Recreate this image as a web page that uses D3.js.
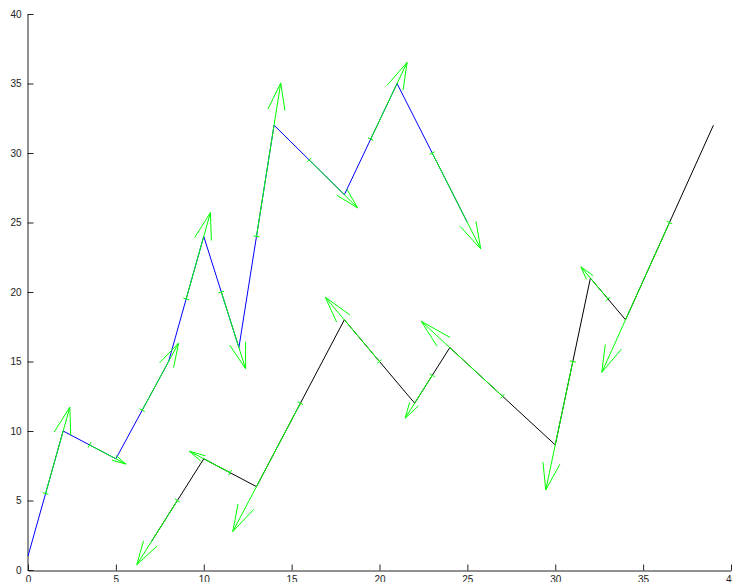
<!DOCTYPE html>
<html>
<head>
<meta charset="utf-8">
<script src="https://cdn.jsdelivr.net/npm/d3@7"></script>
<style>
  html, body { margin: 0; padding: 0; background: #fff; }
  svg { display: block; }
  .axis text { font-family: "Liberation Sans", Arial, Helvetica, sans-serif; font-size: 10px; fill: #222; }
  .axis path, .axis line { stroke: #222; }
</style>
</head>
<body>
<svg id="chart" width="732" height="582"></svg>
<script>
// ---- data ----
const blueX = [0, 2, 5, 8, 10, 12, 14, 18, 21, 25];
const blueY = [1, 10, 8, 15, 24, 16, 32, 27, 35, 25];
const blackX = [39, 34, 32, 30, 24, 22, 18, 13, 10, 7];
const blackY = [32, 18, 21, 9, 16, 12, 18, 6, 8, 2];
// quiver autoscale factors per series
const blueArrowScale = 0.69;
const blackArrowScale = 0.77;
const xTicks = [0, 5, 10, 15, 20, 25, 30, 35, 40];
const yTicks = [0, 5, 10, 15, 20, 25, 30, 35, 40];

// ---- layout ----
const plotLeft = 28, plotRight = 731, plotTop = 14, plotBottom = 570;
const svg = d3.select("#chart");
const x = d3.scaleLinear().domain([0, 40]).range([plotLeft, plotRight]);
const y = d3.scaleLinear().domain([0, 40]).range([plotBottom, plotTop]);

// axes (MATLAB-style: ticks inside, box off)
const xAxis = d3.axisBottom(x).tickValues(xTicks).tickFormat(d3.format("d"))
  .tickSizeInner(-6).tickSizeOuter(0).tickPadding(5);
const yAxis = d3.axisLeft(y).tickValues(yTicks).tickFormat(d3.format("d"))
  .tickSizeInner(-6).tickSizeOuter(0).tickPadding(6);

svg.append("g").attr("class", "axis").attr("transform", `translate(0,${plotBottom + 0.5})`).call(xAxis);
svg.append("g").attr("class", "axis").attr("transform", `translate(${plotLeft - 0.5},0)`).call(yAxis);

// ---- lines ----
const line = d3.line().x(d => x(d[0])).y(d => y(d[1]));
const blue = blueX.map((v, i) => [v, blueY[i]]);
const black = blackX.map((v, i) => [v, blackY[i]]);

svg.append("path").datum(blue).attr("d", line)
  .attr("fill", "none").attr("stroke", "#0000ff").attr("stroke-width", 1);
svg.append("path").datum(black).attr("d", line)
  .attr("fill", "none").attr("stroke", "#000000").attr("stroke-width", 1);

// ---- quiver arrows (start at segment midpoints) ----
function quiverData(pts, scale) {
  const out = [];
  for (let i = 0; i < pts.length - 1; i++) {
    const [x0, y0] = pts[i], [x1, y1] = pts[i + 1];
    out.push({
      x: (x0 + x1) / 2, y: (y0 + y1) / 2,
      u: (x1 - x0) * scale, v: (y1 - y0) * scale
    });
  }
  return out;
}
const beta = 0.25;
const maxHead = 1.95; // data units
function drawQuiver(data) {
  const g = svg.append("g");
  data.forEach(a => {
    const tx = a.x + a.u, ty = a.y + a.v;
    const L = Math.hypot(a.u, a.v);
    const alpha = Math.min(0.33, maxHead / L);
    const b1 = [tx - alpha * (a.u + beta * a.v), ty - alpha * (a.v - beta * a.u)];
    const b2 = [tx - alpha * (a.u - beta * a.v), ty - alpha * (a.v + beta * a.u)];
    const path = d3.path();
    path.moveTo(x(a.x), y(a.y));
    path.lineTo(x(tx), y(ty));
    path.moveTo(x(b1[0]), y(b1[1]));
    path.lineTo(x(tx), y(ty));
    path.lineTo(x(b2[0]), y(b2[1]));
    g.append("path").attr("d", path.toString())
      .attr("fill", "none").attr("stroke", "#00ff00").attr("stroke-width", 1);
    // small marker at the arrow base
    const px = x(a.x), py = y(a.y);
    const ang = Math.atan2(y(ty) - py, x(tx) - px);
    const s = 3;
    const nx = -Math.sin(ang) * s, ny = Math.cos(ang) * s;
    g.append("line").attr("x1", px - nx).attr("y1", py - ny)
      .attr("x2", px + nx).attr("y2", py + ny)
      .attr("stroke", "#00ff00").attr("stroke-width", 1);
  });
}
drawQuiver(quiverData(blue, blueArrowScale));
drawQuiver(quiverData(black, blackArrowScale));
</script>
</body>
</html>
